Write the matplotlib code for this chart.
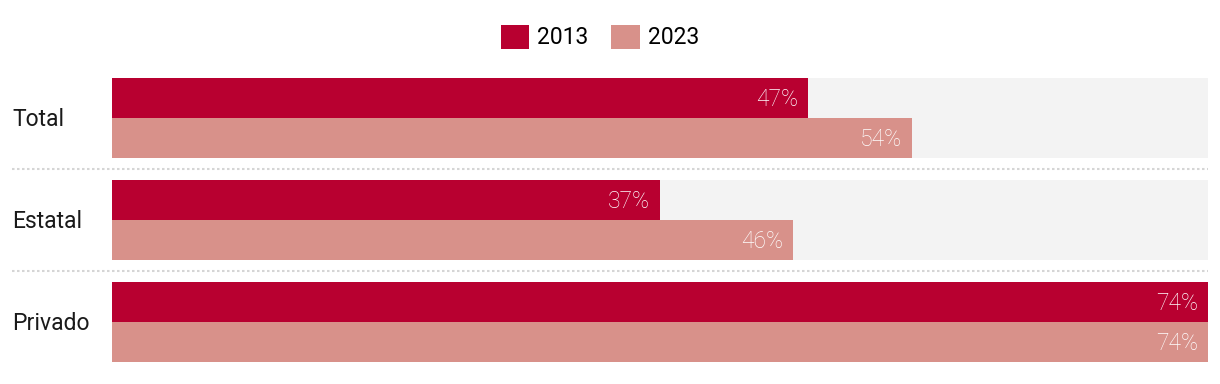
import matplotlib
matplotlib.use("Agg")
import matplotlib.pyplot as plt
from matplotlib.patches import Patch

categories = ["Total", "Estatal", "Privado"]
years = ["2013", "2023"]
values_2013 = [47, 37, 74]
values_2023 = [54, 46, 74]

c2013 = "#B80030"
c2023 = "#D8918A"
track = "#F3F3F3"

plt.rcParams['font.family'] = ['Roboto', 'DejaVu Sans']
FS = 16.5

W, H = 1220, 384
fig = plt.figure(figsize=(W/100, H/100), dpi=100)
left, right = 112, 1208
top, bottom = 78, 362
ax = fig.add_axes([left/W, 1 - bottom/H, (right-left)/W, (bottom-top)/H])

pitch = 102.0
bh = 40/pitch
xmax = max(max(values_2013), max(values_2023))
px = xmax/(right-left)
for i, cat in enumerate(categories):
    ax.barh(i, xmax, height=2*bh, color=track, align='center', zorder=0)
    ax.barh(i - bh/2, values_2013[i], height=bh, color=c2013, zorder=1)
    ax.barh(i + bh/2, values_2023[i], height=bh, color=c2023, zorder=1)
    for y, v in ((i - bh/2, values_2013[i]), (i + bh/2, values_2023[i])):
        ax.text(v - 10*px, y + 1/pitch, f"{v}%", ha='right', va='center', color='white',
                fontsize=FS, fontweight='light')
    ax.text(-100*px, i + 2/pitch, cat, ha='left', va='center', color='#1a1a1a',
            fontsize=FS, fontweight='normal')

for k in range(len(categories) - 1):
    ysep = k + 0.5
    ax.plot([-100*px, xmax], [ysep, ysep], color='#D5D5D5',
            linestyle=(0, (1.2, 1.2)), linewidth=1.5, clip_on=False, zorder=0)

ax.set_xlim(0, xmax)
ax.set_ylim(len(categories) - 1 + bh, -bh)
ax.axis('off')

handles = [Patch(facecolor=c2013, edgecolor='none'), Patch(facecolor=c2023, edgecolor='none')]
fig.legend(handles, years, loc='center', bbox_to_anchor=(600/W, 1 - 37/H), ncol=2,
           frameon=False, handlelength=1.25, handleheight=1.25,
           handletextpad=0.35, columnspacing=1.0, prop={'weight': 'normal', 'size': FS})

fig.savefig("out.png", dpi=100)
